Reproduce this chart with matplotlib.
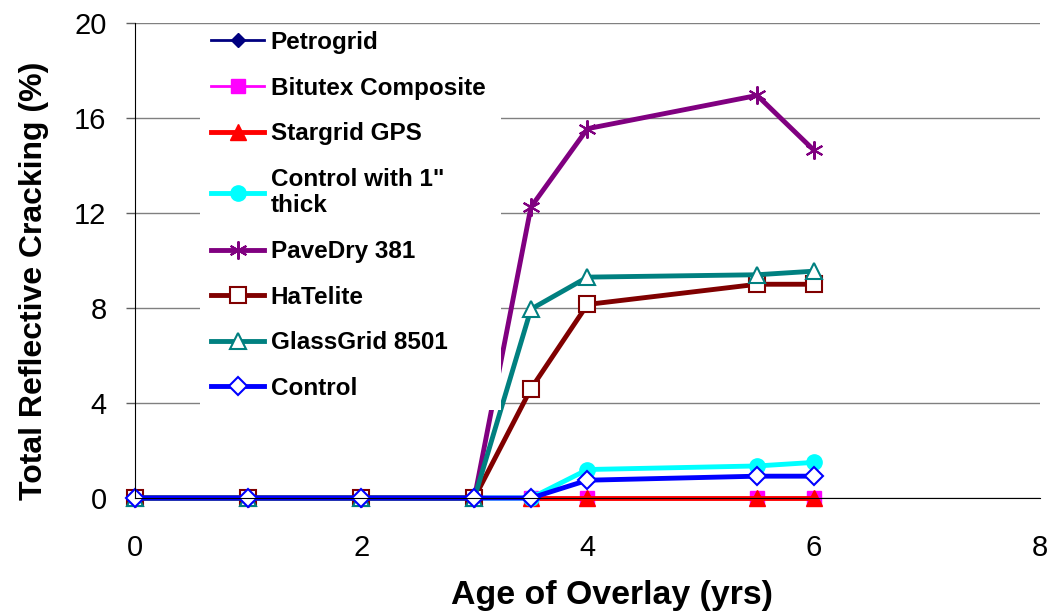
'''
Reflective cracking vs overlay age for the interlayer products
'''
import matplotlib.pyplot as plt
from matplotlib.patches import Rectangle

plt.rcParams['font.family'] = ['Liberation Sans', 'DejaVu Sans']

# data
Age = [0, 1, 2, 3, 3.5, 4, 5.5, 6]
AgeLate = [3.5, 4, 5.5, 6]

Petrogrid = [0, 0, 0, 0]
Bitutex = [0, 0, 0, 0]
Stargrid = [0, 0, 0, 0]
Control1in = [0, 0, 0, 0, 0, 1.2, 1.35, 1.5]
PaveDry = [0, 0, 0, 0, 12.25, 15.55, 16.95, 14.65]
HaTelite = [0, 0, 0, 0, 4.6, 8.15, 9.0, 9.0]
GlassGrid = [0, 0, 0, 0, 7.95, 9.3, 9.4, 9.55]
Control = [0, 0, 0, 0, 0, 0.75, 0.92, 0.92]

fig = plt.figure(figsize=(10.54, 6.11), dpi=100)
ax = fig.add_axes([0.1281, 0.1849, 0.8586, 0.7775])

kw = dict(clip_on=False)
ax.plot(AgeLate, Petrogrid, color='#000080', lw=2, marker='D', ms=7, label='Petrogrid', **kw)
ax.plot(AgeLate, Bitutex, color='#FF00FF', lw=2, marker='s', ms=10, label='Bitutex Composite', **kw)
ax.plot(AgeLate, Stargrid, color='#FF0000', lw=3.5, marker='^', ms=11, label='Stargrid GPS', **kw)
ax.plot(Age, Control1in, color='#00FFFF', lw=3.5, marker='o', ms=11, label='Control with 1"\nthick', **kw)
ax.plot(Age, PaveDry, color='#800080', lw=3.5, marker=(6, 2, 0), ms=13, mew=1.5, label='PaveDry 381', **kw)
ax.plot(Age, HaTelite, color='#800000', lw=3.5, marker='s', ms=12, mfc='white', mew=1.5, label='HaTelite', **kw)
ax.plot(Age, GlassGrid, color='#008080', lw=3.5, marker='^', ms=12, mfc='white', mew=1.5, label='GlassGrid 8501', **kw)
ax.plot(Age, Control, color='#0000FF', lw=3.5, marker='D', ms=9, mfc='white', mew=1.5, label='Control', **kw)

#Graph Settings
ax.set_xlim(0, 8)
ax.set_ylim(0, 20)
ax.set_xticks([0, 2, 4, 6, 8])
ax.set_yticks([0, 4, 8, 12, 16, 20])
ax.grid(axis='y', color='#808080', lw=1)
ax.set_axisbelow(True)
for s in ['top', 'right']:
    ax.spines[s].set_visible(False)
ax.tick_params(axis='x', length=0, pad=26, labelsize=21)
ax.tick_params(axis='y', length=6.5, width=1, color='#606060', pad=14, labelsize=21)

ax.set_xlabel('Age of Overlay (yrs)', fontsize=24.4, fontweight='bold', labelpad=13)
ax.set_ylabel('Total Reflective Cracking (%)', fontsize=23, fontweight='bold', labelpad=18)
ax.xaxis.label.set_x(0.527)
ax.yaxis.label.set_y(0.457)

# white legend box drawn over the data, like the original
fig.patches.append(Rectangle((0.19, 0.329), 0.285, 0.628, transform=fig.transFigure,
                             facecolor='white', edgecolor='none', zorder=4))
leg = fig.legend(loc='upper left', bbox_to_anchor=(211/1054, 1-31/611), frameon=False,
                 borderaxespad=0, borderpad=0, handlelength=2.2, handletextpad=0.25,
                 labelspacing=0.93, prop={'size': 17.5, 'weight': 'bold'})
leg.set_zorder(5)

fig.savefig('out.png', dpi=100)
